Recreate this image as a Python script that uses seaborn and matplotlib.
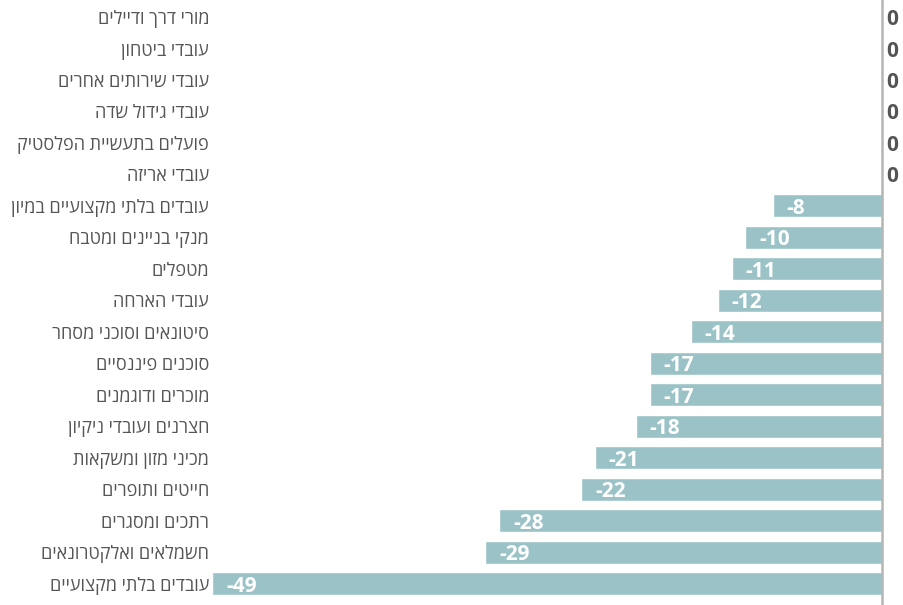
import matplotlib
matplotlib.use("Agg")
import matplotlib.pyplot as plt
import seaborn as sns
import pandas as pd

# Occupations (top to bottom) and change values
occupations = [
    "מורי דרך ודיילים",
    "עובדי ביטחון",
    "עובדי שירותים אחרים",
    "עובדי גידול שדה",
    "פועלים בתעשיית הפלסטיק",
    "עובדי אריזה",
    "עובדים בלתי מקצועיים במיון",
    "מנקי בניינים ומטבח",
    "מטפלים",
    "עובדי הארחה",
    "סיטונאים וסוכני מסחר",
    "סוכנים פיננסיים",
    "מוכרים ודוגמנים",
    "חצרנים ועובדי ניקיון",
    "מכיני מזון ומשקאות",
    "חייטים ותופרים",
    "רתכים ומסגרים",
    "חשמלאים ואלקטרונאים",
    "עובדים בלתי מקצועיים",
]
values = [0, 0, 0, 0, 0, 0, -8, -10, -11, -12, -14, -17, -17, -18, -21, -22, -28, -29, -49]

sns.set_theme(style="white")
plt.rcParams["font.family"] = ["Open Sans", "DejaVu Sans"]

# matplotlib lays text out left-to-right, so Hebrew strings are reversed for display
display = [s[::-1] for s in occupations]
df = pd.DataFrame({"label": display, "value": values})

W, H = 904, 605
fig = plt.figure(figsize=(W / 100, H / 100), dpi=100)
ax = fig.add_axes([212 / W, 0, (882 - 212) / W, 1])

sns.barplot(data=df, x="value", y="label", orient="h", color="#9bc3c7",
            saturation=1, width=0.73, ax=ax, order=display)

ax.set_xlim(-49, 0)
ax.set_ylim(18.67, -0.54)
ax.set_xlabel("")
ax.set_ylabel("")
ax.set_xticks([])
ax.tick_params(axis="y", length=0, pad=2, labelsize=13, labelcolor="#555555")

for side in ["top", "left", "bottom"]:
    ax.spines[side].set_visible(False)
ax.spines["right"].set_visible(True)
ax.spines["right"].set_color("#b5b5b5")
ax.spines["right"].set_linewidth(1.8)

for i, v in enumerate(values):
    if v == 0:
        ax.annotate("0", (0, i), xytext=(3, 0), textcoords="offset points",
                    ha="left", va="center_baseline", fontsize=15, fontweight="bold",
                    color="#555555", annotation_clip=False)
    else:
        ax.annotate(f"{v}", (v, i), xytext=(10, 0), textcoords="offset points",
                    ha="left", va="center_baseline", fontsize=15, fontweight="bold",
                    color="white")

fig.savefig("out.png", dpi=100)
